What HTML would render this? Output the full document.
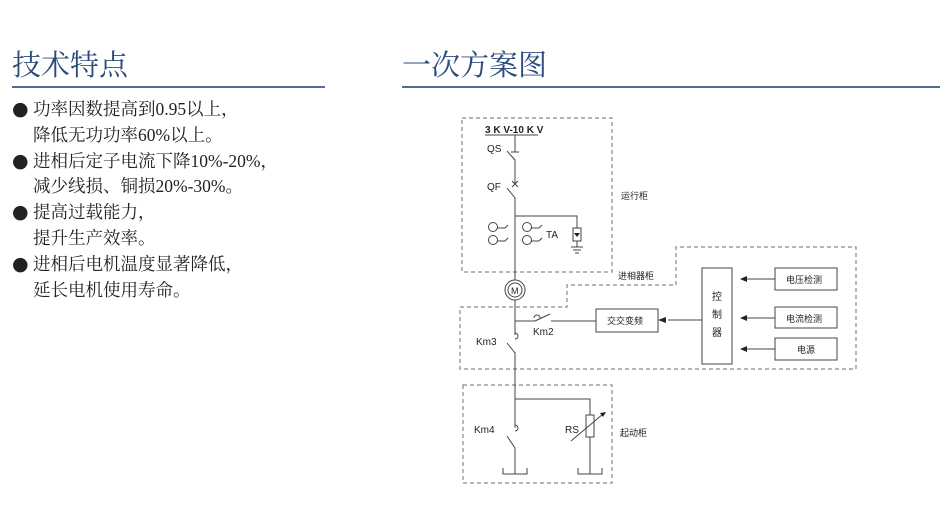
<!DOCTYPE html>
<html><head><meta charset="utf-8">
<style>
body{margin:0;background:#fff;width:940px;height:512px;overflow:hidden;position:relative;font-family:"Liberation Serif","Noto Serif CJK SC",serif;}
.t{position:absolute;font-size:29px;color:#2c4a7c;line-height:1;}
.ul{position:absolute;height:2px;background:#4f6c9a;top:86px;}
.tx{position:absolute;left:12px;top:97px;font-size:17.5px;line-height:25.8px;color:#222;}
.tx div{white-space:nowrap}
.b{display:inline-block;width:21px;font-size:19px;font-family:"DejaVu Sans",sans-serif;line-height:1}
.s{display:inline-block;width:21px}
svg{position:absolute;left:0;top:0}
</style></head><body>
<div class="t" style="left:12px;top:52px">技术特点</div>
<div class="t" style="left:402px;top:52px">一次方案图</div>
<div class="ul" style="left:12px;width:313px"></div>
<div class="ul" style="left:402px;width:538px"></div>
<div class="tx">
<div><span class="b">●</span>功率因数提高到0.95以上，</div>
<div><span class="s"></span>降低无功功率60%以上。</div>
<div><span class="b">●</span>进相后定子电流下降10%-20%，</div>
<div><span class="s"></span>减少线损、铜损20%-30%。</div>
<div><span class="b">●</span>提高过载能力，</div>
<div><span class="s"></span>提升生产效率。</div>
<div><span class="b">●</span>进相后电机温度显著降低，</div>
<div><span class="s"></span>延长电机使用寿命。</div>
</div>
<svg width="940" height="512" viewBox="0 0 940 512" font-family="Liberation Sans, Noto Sans CJK SC, sans-serif" font-size="10" fill="#222">
<g fill="none" stroke="#888" stroke-width="1.2" stroke-dasharray="4,3">
<rect x="462" y="118" width="150" height="154"/>
<path d="M676 285 V247 H856 V369 H460 V307 H567 V285 Z"/>
<rect x="463" y="385" width="149" height="98"/>
</g>
<g fill="none" stroke="#444" stroke-width="1">
<line x1="485" y1="135" x2="538" y2="135"/>
<path d="M515 135 V152 M511 152 H519 M507 151 L515 160 V184 M512 181 l6 6 M518 181 l-6 6 M507 188 L515 198 V335 M515 352 V428 M515 448 V474"/>
<path d="M515 216 H577 V228 M573 228 H581 V241 H573 Z M577 241 V247 M571 247 H583 M573 250 H581 M575 253 H579"/>
<circle cx="493" cy="227" r="4.5"/><circle cx="493" cy="240" r="4.5"/>
<circle cx="527" cy="227" r="4.5"/><circle cx="527" cy="240" r="4.5"/>
<path d="M497 228 H505 l3 -3 M497 241 H505 l3 -3 M531 228 H539 l3 -3 M531 241 H539 l3 -3"/>
<circle cx="515" cy="290" r="10" fill="#fff"/>
<circle cx="515" cy="290" r="7"/>
<path d="M515 321 H535 M535 321 L550 314 M551 321 H596"/>
<path d="M534 318 a3 3 0 0 1 6 0"/>
<rect x="596" y="309" width="62" height="23"/>
<line x1="702" y1="320" x2="668" y2="320"/>
<rect x="702" y="268" width="30" height="96"/>
<rect x="775" y="268" width="62" height="22"/>
<rect x="775" y="307" width="62" height="21"/>
<rect x="775" y="338" width="62" height="22"/>
<path d="M775 279 H745 M775 318 H745 M775 349 H745"/>
<path d="M515 333 a3 3 0 0 1 0 6 M507 343 L515 353"/>
<path d="M515 399 H590 V415 M586 415 H594 V437 H586 Z M590 437 V474 M571 441 L603 414"/>
<path d="M515 425 a3 3 0 0 1 0 6 M507 436 L515 448"/>
<path d="M503 468 V474 H527 V468 M578 468 V474 H602 V468"/>
</g>
<g fill="#222">
<path d="M574 233 h6 l-3 4 z"/>
<path d="M658 320 l8 -3 v6 z"/>
<path d="M740 279 l7 -3 v6 z M740 318 l7 -3 v6 z M740 349 l7 -3 v6 z"/>
<path d="M606 412 l-6 1 l3 4 z"/>
</g>
<text x="485" y="133" font-weight="bold" font-size="10">3 K V-10 K V</text>
<text x="487" y="152">QS</text>
<text x="487" y="190">QF</text>
<text x="546" y="238">TA</text>
<text x="511" y="294" font-size="9">M</text>
<text x="621" y="199" font-size="9">运行柜</text>
<text x="618" y="279" font-size="9">进相器柜</text>
<text x="533" y="335">Km2</text>
<text x="476" y="345">Km3</text>
<text x="474" y="433">Km4</text>
<text x="565" y="433">RS</text>
<text x="620" y="436" font-size="9">起动柜</text>
<text x="607" y="324" font-size="9">交交变频</text>
<text x="712" y="300" font-size="10">控</text>
<text x="712" y="318" font-size="10">制</text>
<text x="712" y="336" font-size="10">器</text>
<text x="786" y="283" font-size="9">电压检测</text>
<text x="786" y="322" font-size="9">电流检测</text>
<text x="797" y="353" font-size="9">电源</text>
</svg>
</body></html>
